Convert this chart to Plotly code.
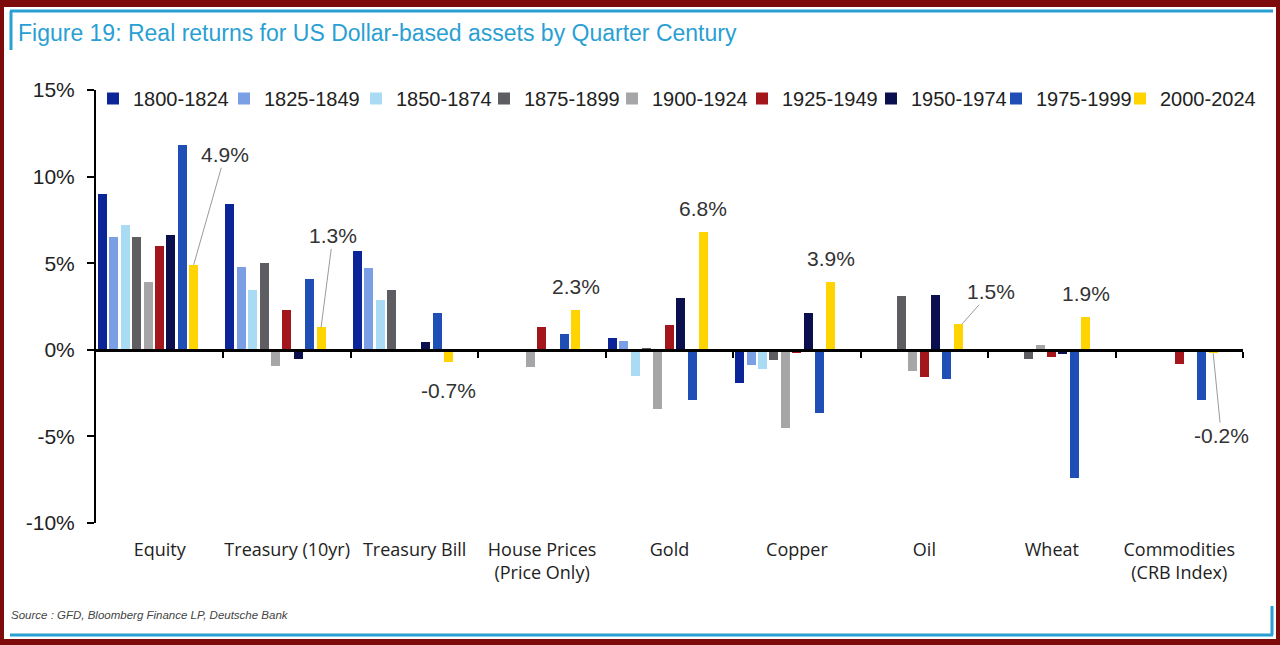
from __future__ import annotations

import plotly.graph_objects as go

WIDTH, HEIGHT = 1280, 645
PLOT_LEFT, PLOT_RIGHT, PLOT_TOP, PLOT_BOTTOM = 96, 1243, 90, 523

CATEGORIES = [
    "Equity",
    "Treasury (10yr)",
    "Treasury Bill",
    "House Prices<br>(Price Only)",
    "Gold",
    "Copper",
    "Oil",
    "Wheat",
    "Commodities<br>(CRB Index)",
]
PERIODS = [
    "1800-1824",
    "1825-1849",
    "1850-1874",
    "1875-1899",
    "1900-1924",
    "1925-1949",
    "1950-1974",
    "1975-1999",
    "2000-2024",
]

# real annual returns (%) per quarter century, one list per period, ordered like CATEGORIES
R_1800_1824 = [9.0, 8.4, 5.7, None, 0.7, -1.9, None, None, None]
R_1825_1849 = [6.5, 4.8, 4.7, None, 0.5, -0.85, None, None, None]
R_1850_1874 = [7.2, 3.45, 2.9, None, -1.5, -1.1, None, None, None]
R_1875_1899 = [6.5, 5.0, 3.45, None, 0.1, -0.6, 3.1, -0.55, None]
R_1900_1924 = [3.9, -0.95, -0.05, -1.0, -3.4, -4.5, -1.25, 0.3, None]
R_1925_1949 = [6.0, 2.3, None, 1.3, 1.45, -0.2, -1.55, -0.4, -0.8]
R_1950_1974 = [6.6, -0.55, 0.45, None, 3.0, 2.15, 3.15, -0.25, None]
R_1975_1999 = [11.8, 4.1, 2.1, 0.9, -2.9, -3.65, -1.7, -7.4, -2.9]
R_2000_2024 = [4.9, 1.3, -0.7, 2.3, 6.8, 3.9, 1.5, 1.9, -0.2]

SERIES = [
    R_1800_1824,
    R_1825_1849,
    R_1850_1874,
    R_1875_1899,
    R_1900_1924,
    R_1925_1949,
    R_1950_1974,
    R_1975_1999,
    R_2000_2024,
]
COLORS = [
    "#0b2498",
    "#7b9fe4",
    "#a9dbf5",
    "#5d5d62",
    "#a6a6a9",
    "#a3171c",
    "#0b0f4e",
    "#1f4fb6",
    "#ffd400",
]

Y_TICKS = [-10, -5, 0, 5, 10, 15]
Y_TICK_TEXT = ["-10%", "-5%", "0%", "5%", "10%", "15%"]

TEAL = "#2a9fd3"
FONT = "Liberation Sans, Arial, sans-serif"

# bar geometry inside a category slot (category width = 1)
BAR_PITCH = 11.4 / 127.5
BAR_WIDTH = 9.0 / 127.5
FIRST_OFFSET = -0.5 + 2.0 / 127.5

# left edge (px) of each legend swatch; one single-entry legend per period
LEGEND_SWATCH_PX = [115, 246, 378, 506, 634, 764, 893, 1018, 1142]


def px_x(px: float) -> float:
    return (px - PLOT_LEFT) / (PLOT_RIGHT - PLOT_LEFT)


def px_y(py: float) -> float:
    return (PLOT_BOTTOM - py) / (PLOT_BOTTOM - PLOT_TOP)


def bar_center(series_index: int, category_index: int) -> float:
    return category_index + FIRST_OFFSET + series_index * BAR_PITCH + BAR_WIDTH / 2


def legend_id(k: int) -> str:
    return "legend" if k == 0 else f"legend{k + 1}"


def build_figure() -> go.Figure:
    figure = go.Figure()
    for k, (period, values, color) in enumerate(zip(PERIODS, SERIES, COLORS)):
        figure.add_trace(
            go.Bar(
                x=list(range(len(CATEGORIES))),
                y=values,
                name=period,
                legend=legend_id(k),
                marker={"color": color, "line": {"width": 0}},
                width=BAR_WIDTH,
                offset=FIRST_OFFSET + k * BAR_PITCH,
                hovertemplate=f"{period}<br>%{{y:.1f}}%<extra></extra>",
            )
        )

    # carries the category labels shown under the plot
    figure.add_trace(
        go.Scatter(
            x=list(range(len(CATEGORIES))),
            y=[None] * len(CATEGORIES),
            xaxis="x2",
            showlegend=False,
            hoverinfo="skip",
        )
    )

    yellow = len(PERIODS) - 1
    last = SERIES[yellow]
    label_font = {"family": FONT, "size": 21, "color": "#333333"}
    annotations = []

    # labels with leader lines: (category, text x, text y)
    for cat, tx, ty in ((0, 0.512, 11.26), (1, 1.359, 6.58), (6, 6.52, 3.35), (8, 8.33, -4.95)):
        annotations.append(
            {
                "x": bar_center(yellow, cat) + (0.03 if cat == 6 else 0),
                "y": last[cat],
                "xref": "x",
                "yref": "y",
                "ax": tx,
                "ay": ty,
                "axref": "x",
                "ayref": "y",
                "text": f"{last[cat]:.1f}%",
                "showarrow": True,
                "arrowhead": 0,
                "arrowwidth": 1,
                "arrowcolor": "#9a9a9a",
                "font": label_font,
            }
        )
    # labels sitting straight above (or below) the bar
    for cat in (2, 3, 4, 5, 7):
        value = last[cat]
        annotations.append(
            {
                "x": bar_center(yellow, cat),
                "y": value,
                "xref": "x",
                "yref": "y",
                "text": f"{value:.1f}%",
                "showarrow": False,
                "yanchor": "bottom" if value >= 0 else "top",
                "yshift": 10 if value >= 0 else -15,
                "font": label_font,
            }
        )

    annotations.append(
        {
            "x": px_x(9),
            "y": px_y(615),
            "xref": "paper",
            "yref": "paper",
            "xanchor": "left",
            "yanchor": "middle",
            "text": "<i>Source : GFD, Bloomberg Finance LP, Deutsche Bank</i>",
            "showarrow": False,
            "font": {"family": FONT, "size": 11.5, "color": "#444444"},
        }
    )

    def seg(x0, y0, x1, y1, color=TEAL, width=3):
        return {
            "type": "line",
            "xref": "paper",
            "yref": "paper",
            "x0": px_x(x0),
            "y0": px_y(y0),
            "x1": px_x(x1),
            "y1": px_y(y1),
            "line": {"color": color, "width": width},
        }

    shapes = [
        {
            "type": "rect",
            "xref": "paper",
            "yref": "paper",
            "x0": px_x(4),
            "y0": px_y(639),
            "x1": px_x(1276),
            "y1": px_y(7),
            "fillcolor": "white",
            "line": {"width": 0},
            "layer": "below",
        },
        seg(10, 11, 1273, 11),
        seg(11, 11, 11, 50),
        seg(10, 635, 1273, 635),
        seg(1272, 606, 1272, 635),
    ]

    legends = {
        legend_id(k): {
            "orientation": "h",
            "x": px_x(left - 22),
            "xanchor": "left",
            "y": px_y(79),
            "yanchor": "top",
            "font": {"family": FONT, "size": 20, "color": "#222222"},
            "itemwidth": 30,
            "bgcolor": "rgba(0,0,0,0)",
        }
        for k, left in enumerate(LEGEND_SWATCH_PX)
    }

    figure.update_layout(
        width=WIDTH,
        height=HEIGHT,
        paper_bgcolor="#7e0b0b",
        plot_bgcolor="white",
        margin={
            "l": PLOT_LEFT,
            "r": WIDTH - PLOT_RIGHT,
            "t": PLOT_TOP,
            "b": HEIGHT - PLOT_BOTTOM,
            "pad": 0,
            "autoexpand": False,
        },
        font={"family": FONT, "size": 21, "color": "#222222"},
        title={
            "text": "Figure 19: Real returns for US Dollar-based assets by Quarter Century",
            "x": 18 / WIDTH,
            "xanchor": "left",
            "xref": "container",
            "y": 1 - 33 / HEIGHT,
            "yanchor": "middle",
            "yref": "container",
            "font": {"family": FONT, "size": 23, "color": TEAL},
        },
        showlegend=True,
        bargap=0,
        barmode="group",
        shapes=shapes,
        annotations=annotations,
        **legends,
    )
    figure.update_layout(
        xaxis={
            "range": [-0.5, len(CATEGORIES) - 0.5],
            "anchor": "free",
            "position": 10 / 25,
            "showline": True,
            "linecolor": "black",
            "linewidth": 2.5,
            "ticks": "outside",
            "tickvals": [k + 0.5 for k in range(len(CATEGORIES))],
            "ticklen": 6,
            "tickwidth": 2,
            "tickcolor": "black",
            "showticklabels": False,
            "showgrid": False,
            "zeroline": False,
            "fixedrange": True,
        },
        xaxis2={
            "range": [-0.5, len(CATEGORIES) - 0.5],
            "overlaying": "x",
            "anchor": "y",
            "side": "bottom",
            "tickvals": list(range(len(CATEGORIES))),
            "ticktext": CATEGORIES,
            "ticks": "",
            "tickangle": 0,
            "ticklabelstandoff": 14,
            "showline": False,
            "showgrid": False,
            "zeroline": False,
            "tickfont": {"family": "Open Sans, Liberation Sans, sans-serif", "size": 18, "color": "#222222"},
        },
        yaxis={
            "range": [-10, 15],
            "tickvals": Y_TICKS,
            "ticktext": Y_TICK_TEXT,
            "showline": True,
            "linecolor": "black",
            "linewidth": 2,
            "ticks": "outside",
            "ticklen": 7,
            "tickwidth": 2,
            "tickcolor": "black",
            "showgrid": False,
            "zeroline": False,
            "ticklabelstandoff": 8,
            "tickfont": {"family": FONT, "size": 21, "color": "#222222"},
        },
    )
    return figure


fig = build_figure()
fig.write_html(
    "out.html",
    config={"displayModeBar": False},
    post_script="document.body.style.margin='0';document.body.style.overflow='hidden';",
)
